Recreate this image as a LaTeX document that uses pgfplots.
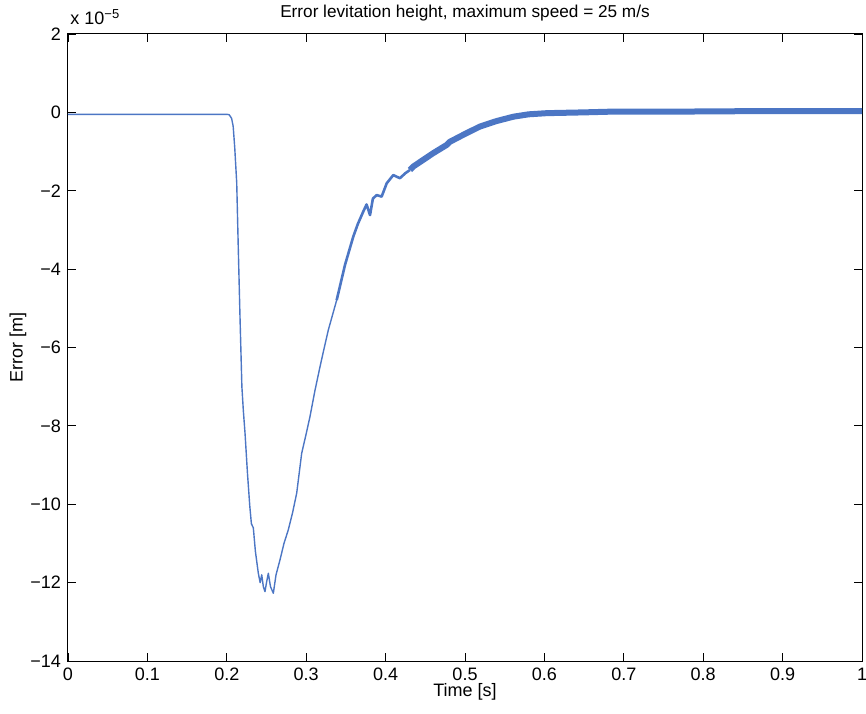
\documentclass[border=0pt]{standalone}
\usepackage{fontspec}
\setmainfont{Liberation Sans}
\usepackage{pgfplots}
\pgfplotsset{compat=1.18}
\definecolor{lc}{RGB}{76,118,196}
\begin{document}
\begin{tikzpicture}
\begin{axis}[
  width=397pt, height=313.5pt, scale only axis,
  xmin=0, xmax=1, ymin=-14, ymax=2,
  xtick={0,0.1,0.2,0.3,0.4,0.5,0.6,0.7,0.8,0.9,1},
  xticklabels={0,0.1,0.2,0.3,0.4,0.5,0.6,0.7,0.8,0.9,1},
  ytick={-14,-12,-10,-8,-6,-4,-2,0,2},
  yticklabels={−14,−12,−10,−8,−6,−4,−2,0,2},
  tick align=inside, major tick length=4pt,
  tick style={black, line width=0.4pt},
  axis line style={black, line width=0.5pt},
  ticklabel style={font=\fontsize{9}{10}\selectfont},
  title={Error levitation height, maximum speed = 25 m/s},
  every axis title/.style={font=\fontsize{8.6}{10}\selectfont, at={(axis description cs:0.5,1.0335)}, anchor=center},
  xlabel={Time [s]},
  every axis x label/.style={font=\fontsize{9}{10}\selectfont, at={(axis description cs:0.5,-0.0494)}, anchor=center},
  ylabel={Error [m]},
  every axis y label/.style={font=\fontsize{9}{10}\selectfont, at={(axis description cs:-0.063,0.5)}, anchor=center, rotate=90},
  clip=true,
]
\addplot[lc, line width=0.7pt, line join=round] coordinates {
(0,-0.05) (0.2,-0.05) (0.203,-0.06) (0.206,-0.15) (0.208,-0.35) (0.210,-0.9)
(0.2125,-1.8) (0.2145,-3.5) (0.2166,-5.2) (0.219,-7.0) (0.2208,-7.6) (0.223,-8.2)
(0.226,-9.2) (0.229,-10.06) (0.231,-10.5) (0.2334,-10.6) (0.236,-11.2) (0.2397,-11.76)
(0.242,-12.0) (0.244,-11.8) (0.246,-12.1) (0.2481,-12.23) (0.250,-12.0) (0.2523,-11.76)
(0.255,-12.1) (0.2586,-12.27) (0.262,-11.8) (0.267,-11.42) (0.272,-11.0) (0.2775,-10.65)
(0.283,-10.2) (0.288,-9.72) (0.2943,-8.70) (0.30,-8.2) (0.3048,-7.76) (0.311,-7.1)
(0.3174,-6.49) (0.3228,-6.0) (0.3279,-5.55) (0.3384,-4.79)
};
\addplot[lc, line width=1.3pt, line join=round] coordinates {
(0.3384,-4.79) (0.3489,-3.89) (0.3593,-3.17) (0.365,-2.85) (0.3719,-2.53) (0.376,-2.35)
(0.3804,-2.62) (0.384,-2.2) (0.3888,-2.11) (0.395,-2.15) (0.4014,-1.81) (0.4097,-1.60)
(0.418,-1.68) (0.425,-1.55) (0.4307,-1.47)
};
\addplot[lc, line width=3pt, line join=round] coordinates {
(0.4307,-1.47) (0.435,-1.38) (0.46,-1.04) (0.477,-0.83) (0.481,-0.75) (0.50,-0.55)
(0.519,-0.36) (0.54,-0.22) (0.561,-0.11) (0.58,-0.05) (0.603,-0.02) (0.65,0.0)
(0.687,0.02) (0.771,0.02) (0.85,0.03) (1.0,0.03)
};
\end{axis}
\node[anchor=south west, inner sep=0pt, font=\fontsize{9}{10}\selectfont] at (1pt,318pt) {x 10\raisebox{0.6ex}{\fontsize{6.5}{7}\selectfont −5}};
\pgfresetboundingbox
\path (-34pt,-26pt) rectangle (399pt,330.5pt);
\end{tikzpicture}
\end{document}
